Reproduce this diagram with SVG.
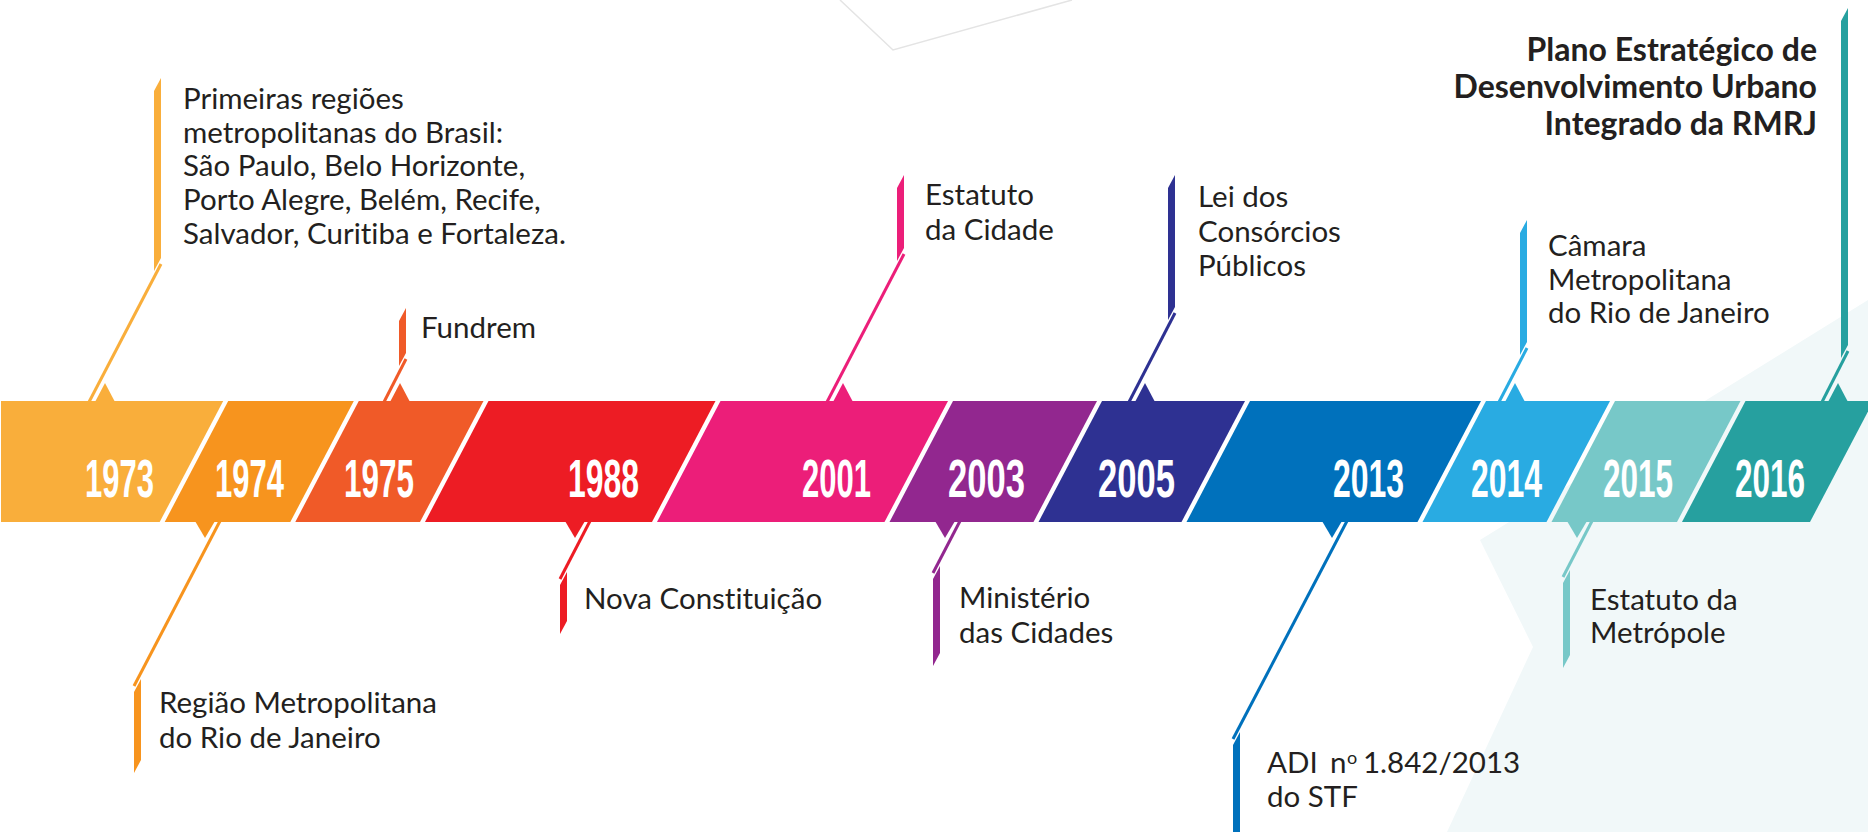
<svg xmlns="http://www.w3.org/2000/svg" width="1868" height="832" viewBox="0 0 1868 832">
<style>
.lbl{font-family:Lato,"Liberation Sans",sans-serif;font-size:29.5px;fill:#231F20;font-variant-ligatures:none}
.ttl{font-family:Lato,"Liberation Sans",sans-serif;font-size:32px;font-weight:bold;fill:#231F20;font-variant-ligatures:none}
.yr{font-family:"Liberation Sans",Arial,sans-serif;font-size:53px;font-weight:bold;fill:#FFFFFF}
.ln{fill:none;stroke-width:3}
</style>
<rect width="1868" height="832" fill="#FFFFFF"/>
<g id="background">
<polygon points="1480,540 1533,647 1447,832 1868,832 1868,300" fill="#F1F8F9"/>
<polyline points="840,0 893,50 1072,0" fill="none" stroke="#E4E4E4" stroke-width="1.5"/>
</g>
<g id="band">
<polygon id="seg1973" points="1,401 223.2,401 159.7,522 1,522" fill="#F9AE3B"/>
<polygon id="seg1974" points="228.2,401 353.8,401 290.3,522 164.7,522" fill="#F7941E"/>
<polygon id="seg1975" points="358.8,401 483.5,401 420,522 295.3,522" fill="#F05A28"/>
<polygon id="seg1988" points="488.5,401 715.5,401 652,522 425,522" fill="#ED1C24"/>
<polygon id="seg2001" points="720.5,401 948,401 884.5,522 657,522" fill="#EC1E79"/>
<polygon id="seg2003" points="953,401 1097,401 1033.5,522 889.5,522" fill="#92278F"/>
<polygon id="seg2005" points="1102,401 1245,401 1181.5,522 1038.5,522" fill="#2E3192"/>
<polygon id="seg2013" points="1250,401 1481,401 1417.5,522 1186.5,522" fill="#0071BC"/>
<polygon id="seg2014" points="1486,401 1610,401 1546.5,522 1422.5,522" fill="#29ABE2"/>
<polygon id="seg2015" points="1615,401 1740.5,401 1677,522 1551.5,522" fill="#77C8C8"/>
<polygon id="seg2016" points="1745.5,401 1873.5,401 1810,522 1682,522" fill="#26A09F"/>
<text class="yr" x="85" y="497" textLength="69" lengthAdjust="spacingAndGlyphs">1973</text>
<text class="yr" x="215" y="497" textLength="69" lengthAdjust="spacingAndGlyphs">1974</text>
<text class="yr" x="344" y="497" textLength="70" lengthAdjust="spacingAndGlyphs">1975</text>
<text class="yr" x="568" y="497" textLength="71" lengthAdjust="spacingAndGlyphs">1988</text>
<text class="yr" x="802" y="497" textLength="69" lengthAdjust="spacingAndGlyphs">2001</text>
<text class="yr" x="948" y="497" textLength="77" lengthAdjust="spacingAndGlyphs">2003</text>
<text class="yr" x="1098" y="497" textLength="77" lengthAdjust="spacingAndGlyphs">2005</text>
<text class="yr" x="1333" y="497" textLength="71" lengthAdjust="spacingAndGlyphs">2013</text>
<text class="yr" x="1471" y="497" textLength="71" lengthAdjust="spacingAndGlyphs">2014</text>
<text class="yr" x="1603" y="497" textLength="70" lengthAdjust="spacingAndGlyphs">2015</text>
<text class="yr" x="1735" y="497" textLength="70" lengthAdjust="spacingAndGlyphs">2016</text>
</g>
<g id="connectors">
<line class="ln" stroke="#F9AE3B" x1="89" y1="402" x2="161" y2="264"/>
<line class="ln" stroke="#F7941E" x1="220" y1="521" x2="134" y2="686"/>
<line class="ln" stroke="#F05A28" x1="384" y1="402" x2="406" y2="359"/>
<line class="ln" stroke="#ED1C24" x1="590" y1="521" x2="560" y2="579"/>
<line class="ln" stroke="#EC1E79" x1="827" y1="402" x2="904" y2="254"/>
<line class="ln" stroke="#92278F" x1="960" y1="521" x2="933" y2="573"/>
<line class="ln" stroke="#2E3192" x1="1129" y1="402" x2="1175" y2="313"/>
<line class="ln" stroke="#0071BC" x1="1347" y1="521" x2="1233" y2="739"/>
<line class="ln" stroke="#29ABE2" x1="1499" y1="402" x2="1527" y2="348"/>
<line class="ln" stroke="#77C8C8" x1="1592" y1="521" x2="1563" y2="577"/>
<line class="ln" stroke="#26A09F" x1="1822" y1="402" x2="1848" y2="351"/>
</g>
<g id="n1973">
<polygon points="95,402 105,383 115,402" fill="#F9AE3B"/>
<polygon points="154,271 161,258 161,78 154,91" fill="#F9AE3B"/>
<text class="lbl"><tspan x="183" y="109">Primeiras regiões</tspan><tspan x="183" y="143">metropolitanas do Brasil:</tspan><tspan x="183" y="176">São Paulo, Belo Horizonte,</tspan><tspan x="183" y="210">Porto Alegre, Belém, Recife,</tspan><tspan x="183" y="244">Salvador, Curitiba e Fortaleza.</tspan></text>
</g>
<g id="n1974">
<polygon points="195,521 205,538 215,521" fill="#F7941E"/>
<polygon points="134,692 141,679 141,760 134,773" fill="#F7941E"/>
<text class="lbl"><tspan x="159" y="713">Região Metropolitana</tspan><tspan x="159" y="748">do Rio de Janeiro</tspan></text>
</g>
<g id="n1975">
<polygon points="390,402 400,383 410,402" fill="#F05A28"/>
<polygon points="399,366 406,353 406,308 399,321" fill="#F05A28"/>
<text class="lbl" x="421" y="338">Fundrem</text>
</g>
<g id="n1988">
<polygon points="565,521 575,538 585,521" fill="#ED1C24"/>
<polygon points="560,585 567,572 567,621 560,634" fill="#ED1C24"/>
<text class="lbl" x="584" y="609">Nova Constituição</text>
</g>
<g id="n2001">
<polygon points="833,402 843,383 853,402" fill="#EC1E79"/>
<polygon points="897,261 904,248 904,175 897,188" fill="#EC1E79"/>
<text class="lbl"><tspan x="925" y="205">Estatuto</tspan><tspan x="925" y="240">da Cidade</tspan></text>
</g>
<g id="n2003">
<polygon points="935,521 945,538 955,521" fill="#92278F"/>
<polygon points="933,579 940,566 940,653 933,666" fill="#92278F"/>
<text class="lbl"><tspan x="959" y="608">Ministério</tspan><tspan x="959" y="643">das Cidades</tspan></text>
</g>
<g id="n2005">
<polygon points="1135,402 1145,383 1155,402" fill="#2E3192"/>
<polygon points="1168,320 1175,307 1175,175 1168,188" fill="#2E3192"/>
<text class="lbl"><tspan x="1198" y="207">Lei dos</tspan><tspan x="1198" y="242">Consórcios</tspan><tspan x="1198" y="276">Públicos</tspan></text>
</g>
<g id="n2013">
<polygon points="1322,521 1332,538 1342,521" fill="#0071BC"/>
<polygon points="1233,745 1240,732 1240,832 1233,832" fill="#0071BC"/>
<text class="lbl"><tspan x="1267" y="773">ADI</tspan><tspan x="1330" y="773">n</tspan><tspan x="1347" y="764" font-size="18">o</tspan><tspan x="1363" y="773">1.842/2013</tspan><tspan x="1267" y="807">do STF</tspan></text>
</g>
<g id="n2014">
<polygon points="1505,402 1515,383 1525,402" fill="#29ABE2"/>
<polygon points="1520,355 1527,342 1527,220 1520,233" fill="#29ABE2"/>
<text class="lbl"><tspan x="1548" y="256">Câmara</tspan><tspan x="1548" y="290">Metropolitana</tspan><tspan x="1548" y="323">do Rio de Janeiro</tspan></text>
</g>
<g id="n2015">
<polygon points="1567,521 1577,538 1587,521" fill="#77C8C8"/>
<polygon points="1563,583 1570,570 1570,655 1563,668" fill="#77C8C8"/>
<text class="lbl"><tspan x="1590" y="610">Estatuto da</tspan><tspan x="1590" y="643">Metrópole</tspan></text>
</g>
<g id="n2016">
<polygon points="1828,402 1838,383 1848,402" fill="#26A09F"/>
<polygon points="1841,358 1848,345 1848,8 1841,21" fill="#26A09F"/>
<text class="ttl" text-anchor="end"><tspan x="1817" y="61">Plano Estratégico de</tspan><tspan x="1817" y="98">Desenvolvimento Urbano</tspan><tspan x="1817" y="135">Integrado da RMRJ</tspan></text>
</g>
</svg>
